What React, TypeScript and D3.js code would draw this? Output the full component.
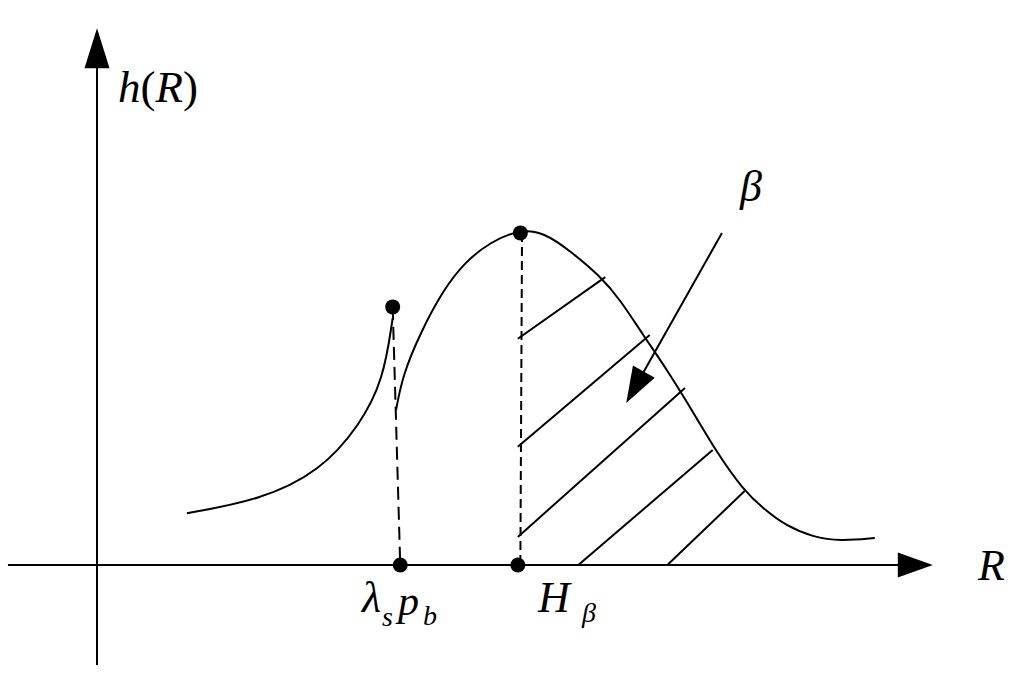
import React from "react";
import * as d3 from "d3";

// Data in abstract units: R (horizontal) in [0,100], h (vertical) in [0,100]
const leftBranchR = [10.7, 19.4, 26.6, 31.3, 34.1, 35.2];
const leftBranchH = [9.6, 12.0, 17.4, 25.9, 34.3, 45.7];

const rightBranchR = [35.6, 36.4, 38.5, 41.2, 43.8, 46.8, 50.4, 53.3, 56.3, 59.9, 62.3, 65.0, 67.9, 71.4, 73.6, 76.9, 79.5, 82.1, 85.2, 88.5, 92.6];
const rightBranchH = [28.7, 35.2, 43.0, 50.9, 56.1, 59.8, 62.2, 61.5, 58.2, 53.5, 49.1, 42.6, 36.1, 27.2, 21.3, 13.9, 10.2, 7.2, 5.2, 4.4, 5.0];

// Marked points: [R, h]
const dotPoints: [number, number][] = [
  [35.2, 47.8],
  [50.4, 61.5],
  [36.1, 0],
  [50.1, 0],
];

// Dashed drop lines: [R1, h1, R2, h2]
const dropLines: [number, number, number, number][] = [
  [35.2, 47.8, 36.1, 0],
  [50.6, 61.5, 50.4, 0],
];
const dropDash = ["13,7", "9,5"];

// Hatch lines: [R1, h1, R2, h2]
const hatchLines: [number, number, number, number][] = [
  [50.1, 41.9, 60.5, 53.3],
  [50.1, 21.9, 65.8, 42.6],
  [50.1, 5.2, 70.0, 32.8],
  [57.3, 0, 73.3, 21.3],
  [67.9, 0, 77.1, 13.7],
];

// Beta arrow: from -> to
const betaArrow: [number, number, number, number] = [74.4, 61.5, 63.0, 30.0];

// Axes extents
const xAxisExtent = [-10.6, 99.5];
const yAxisExtent = [-18.5, 99.4];

const FONT = "'Liberation Serif', 'Times New Roman', serif";

export default function App() {
  const x = d3.scaleLinear().domain([0, 100]).range([97, 937]);
  const y = d3.scaleLinear().domain([0, 100]).range([565, 25]);

  const line = d3
    .line<[number, number]>()
    .x((d) => x(d[0]))
    .y((d) => y(d[1]))
    .curve(d3.curveBasis);

  const leftPts = leftBranchR.map((r, i) => [r, leftBranchH[i]] as [number, number]);
  const rightPts = rightBranchR.map((r, i) => [r, rightBranchH[i]] as [number, number]);

  // arrowheads
  const yTip = [x(0), y(yAxisExtent[1])];
  const xTip = [x(xAxisExtent[1]), y(0)];

  const ax1 = x(betaArrow[0]);
  const ay1 = y(betaArrow[1]);
  const ax2 = x(betaArrow[2]);
  const ay2 = y(betaArrow[3]);
  const dx = ax2 - ax1;
  const dy = ay2 - ay1;
  const len = Math.hypot(dx, dy);
  const ux = dx / len;
  const uy = dy / len;
  const headLen = 36;
  const headHalf = 12.5;
  const bx = ax2 - ux * headLen;
  const by = ay2 - uy * headLen;
  const arrowHead = `M${ax2},${ay2} L${bx - uy * headHalf},${by + ux * headHalf} L${bx + uy * headHalf},${by - ux * headHalf} Z`;

  return (
    <svg
      width={1024}
      height={687}
      style={{ position: "absolute", left: 0, top: 0, background: "#fff" }}
    >
      <rect width={1024} height={687} fill="#fff" />
      {/* axes */}
      <line x1={x(0)} x2={x(0)} y1={y(yAxisExtent[0])} y2={yTip[1] + 20} stroke="#000" strokeWidth={2} />
      <path d={`M${yTip[0]},${yTip[1]} L${yTip[0] - 12.5},${yTip[1] + 40} L${yTip[0] + 12.5},${yTip[1] + 40} Z`} fill="#000" />
      <line x1={x(xAxisExtent[0])} x2={xTip[0] - 20} y1={y(0)} y2={y(0)} stroke="#000" strokeWidth={2} />
      <path d={`M${xTip[0]},${xTip[1]} L${xTip[0] - 35},${xTip[1] - 12.5} L${xTip[0] - 35},${xTip[1] + 12.5} Z`} fill="#000" />

      {/* curves */}
      <path d={line(leftPts) || ""} fill="none" stroke="#000" strokeWidth={2} />
      <path d={line(rightPts) || ""} fill="none" stroke="#000" strokeWidth={2} />

      {/* drop lines */}
      {dropLines.map((d, i) => (
        <line key={i} x1={x(d[0])} y1={y(d[1])} x2={x(d[2])} y2={y(d[3])} stroke="#000" strokeWidth={2} strokeDasharray={dropDash[i]} />
      ))}

      {/* hatch */}
      {hatchLines.map((d, i) => (
        <line key={i} x1={x(d[0])} y1={y(d[1])} x2={x(d[2])} y2={y(d[3])} stroke="#000" strokeWidth={2} />
      ))}

      {/* beta arrow */}
      <line x1={ax1} y1={ay1} x2={bx + ux * 4} y2={by + uy * 4} stroke="#000" strokeWidth={2} />
      <path d={arrowHead} fill="#000" />

      {/* dots */}
      {dotPoints.map((d, i) => (
        <circle key={i} cx={x(d[0])} cy={y(d[1])} r={7.5} fill="#000" />
      ))}

      {/* labels */}
      <text x={118} y={102} fontFamily={FONT} fontSize={45}>
        <tspan fontStyle="italic">h</tspan>
        <tspan>(</tspan>
        <tspan fontStyle="italic">R</tspan>
        <tspan>)</tspan>
      </text>
      <text x={978} y={580} fontFamily={FONT} fontSize={44} fontStyle="italic">R</text>
      <text x={740} y={201} fontFamily={FONT} fontSize={44} fontStyle="italic">β</text>
      <text x={362} y={612} fontFamily={FONT} fontSize={44} fontStyle="italic">λ</text>
      <text x={382} y={626} fontFamily={FONT} fontSize={28} fontStyle="italic">s</text>
      <text x={398} y={615} fontFamily={FONT} fontSize={42} fontStyle="italic">p</text>
      <text x={423} y={625} fontFamily={FONT} fontSize={28} fontStyle="italic">b</text>
      <text x={538} y={612} fontFamily={FONT} fontSize={44} fontStyle="italic">H</text>
      <text x={582} y={622} fontFamily={FONT} fontSize={28} fontStyle="italic">β</text>
    </svg>
  );
}
